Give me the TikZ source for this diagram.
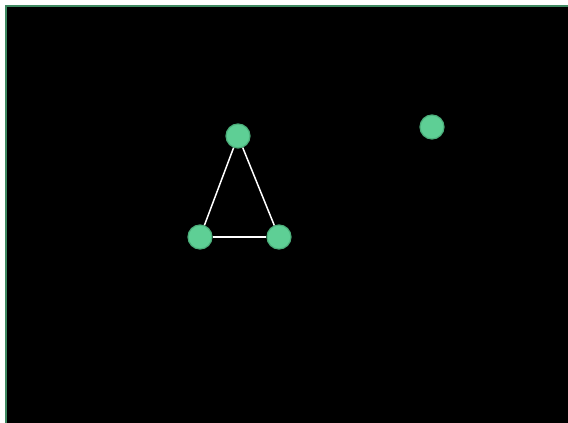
\documentclass[tikz,border=0pt]{standalone}
\begin{document}
\begin{tikzpicture}[x=1pt,y=-1pt,
  vertex/.style={circle,fill=nodefill,draw=nodeedge,line width=1.2pt,minimum size=24pt,inner sep=0pt},
  link/.style={draw=white,line width=1.5pt}]
\definecolor{nodefill}{HTML}{5ECF95}
\definecolor{nodeedge}{HTML}{4BAE7A}
\definecolor{frame}{HTML}{3F8A62}
\useasboundingbox (0,0) rectangle (568,423);
\fill[white] (0,0) rectangle (568,423);
\fill[black] (5,5) rectangle (570,425);
\draw[frame,line width=2pt] (6,425) -- (6,5) (5,6) -- (570,6);
\node[vertex] (a) at (238,136) {};
\node[vertex] (b) at (200,237) {};
\node[vertex] (c) at (279,237) {};
\node[vertex] (d) at (432,127) {};
\draw[link] (a) -- (b);
\draw[link] (a) -- (c);
\draw[link] (b) -- (c);
\end{tikzpicture}
\end{document}
